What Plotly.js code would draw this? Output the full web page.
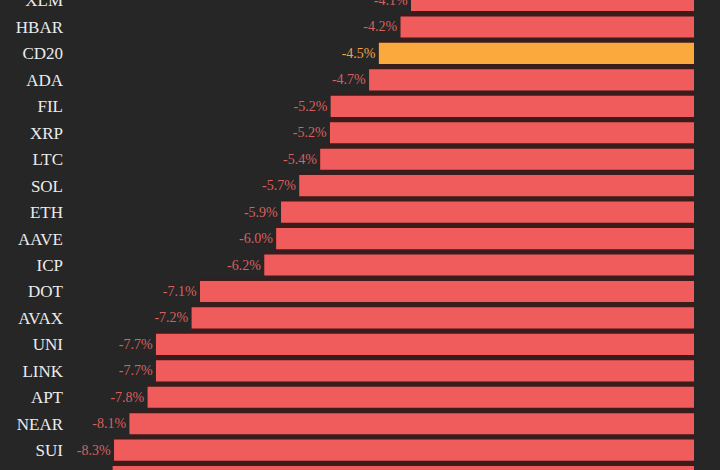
<!DOCTYPE html>
<html>
<head>
<meta charset="utf-8">
<script src="https://cdn.plot.ly/plotly-3.0.1.min.js"></script>
<style>
html,body{margin:0;padding:0;background:#262626;}
#chart{width:720px;height:470px;}
</style>
</head>
<body>
<div id="chart"></div>
<script>
// Data (top row and bottom row are cropped in the source)
const coins = ["XLM","HBAR","CD20","ADA","FIL","XRP","LTC","SOL","ETH","AAVE","ICP","DOT","AVAX","UNI","LINK","APT","NEAR","SUI","(next)"];
// bar lengths as measured on the picture
const changes = [-4.05,-4.2,-4.51,-4.65,-5.2,-5.21,-5.35,-5.65,-5.91,-5.98,-6.15,-7.07,-7.19,-7.7,-7.7,-7.82,-8.08,-8.3,-8.32];
// value labels as printed (bottom row's label is cropped away in the reference)
const valueLabels = ["-4.1%","-4.2%","-4.5%","-4.7%","-5.2%","-5.2%","-5.4%","-5.7%","-5.9%","-6.0%","-6.2%","-7.1%","-7.2%","-7.7%","-7.7%","-7.8%","-8.1%","-8.3%",""];
const highlight = "CD20";

const RED = "#f05b5c", ORANGE = "#fba93c";
const RED_TXT = "#d9605e", ORANGE_TXT = "#f0a445";

const barColors = coins.map(c => c === highlight ? ORANGE : RED);
const txtColors = coins.map(c => c === highlight ? ORANGE_TXT : RED_TXT);

const underlay = {
  type: "bar", orientation: "h",
  y: coins, x: changes, width: 1.0,
  marker: {color: "#3a1c1c"},
  hoverinfo: "skip", showlegend: false
};
const main = {
  type: "bar", orientation: "h",
  y: coins, x: changes, width: 0.8,
  marker: {color: barColors},
  text: valueLabels, textposition: "outside",
  textfont: {family: "Liberation Serif, serif", size: 14, color: txtColors},
  cliponaxis: true,
  hoverinfo: "skip", showlegend: false
};

const layout = {
  width: 720, height: 470,
  margin: {l: 70, r: 26, t: 0, b: 0, pad: 0},
  paper_bgcolor: "#262626", plot_bgcolor: "#262626",
  barmode: "overlay",
  xaxis: {range: [-8.93, 0], visible: false, fixedrange: true},
  yaxis: {
    type: "category", range: [17.75, -0.02],
    showgrid: false, zeroline: false, showline: false, ticks: "",
    ticklabelstandoff: 6,
    tickfont: {family: "Liberation Serif, serif", size: 17, color: "#ececec"},
    fixedrange: true
  },
  showlegend: false
};

Plotly.newPlot("chart", [underlay, main], layout, {displayModeBar: false, staticPlot: true});
</script>
</body>
</html>
